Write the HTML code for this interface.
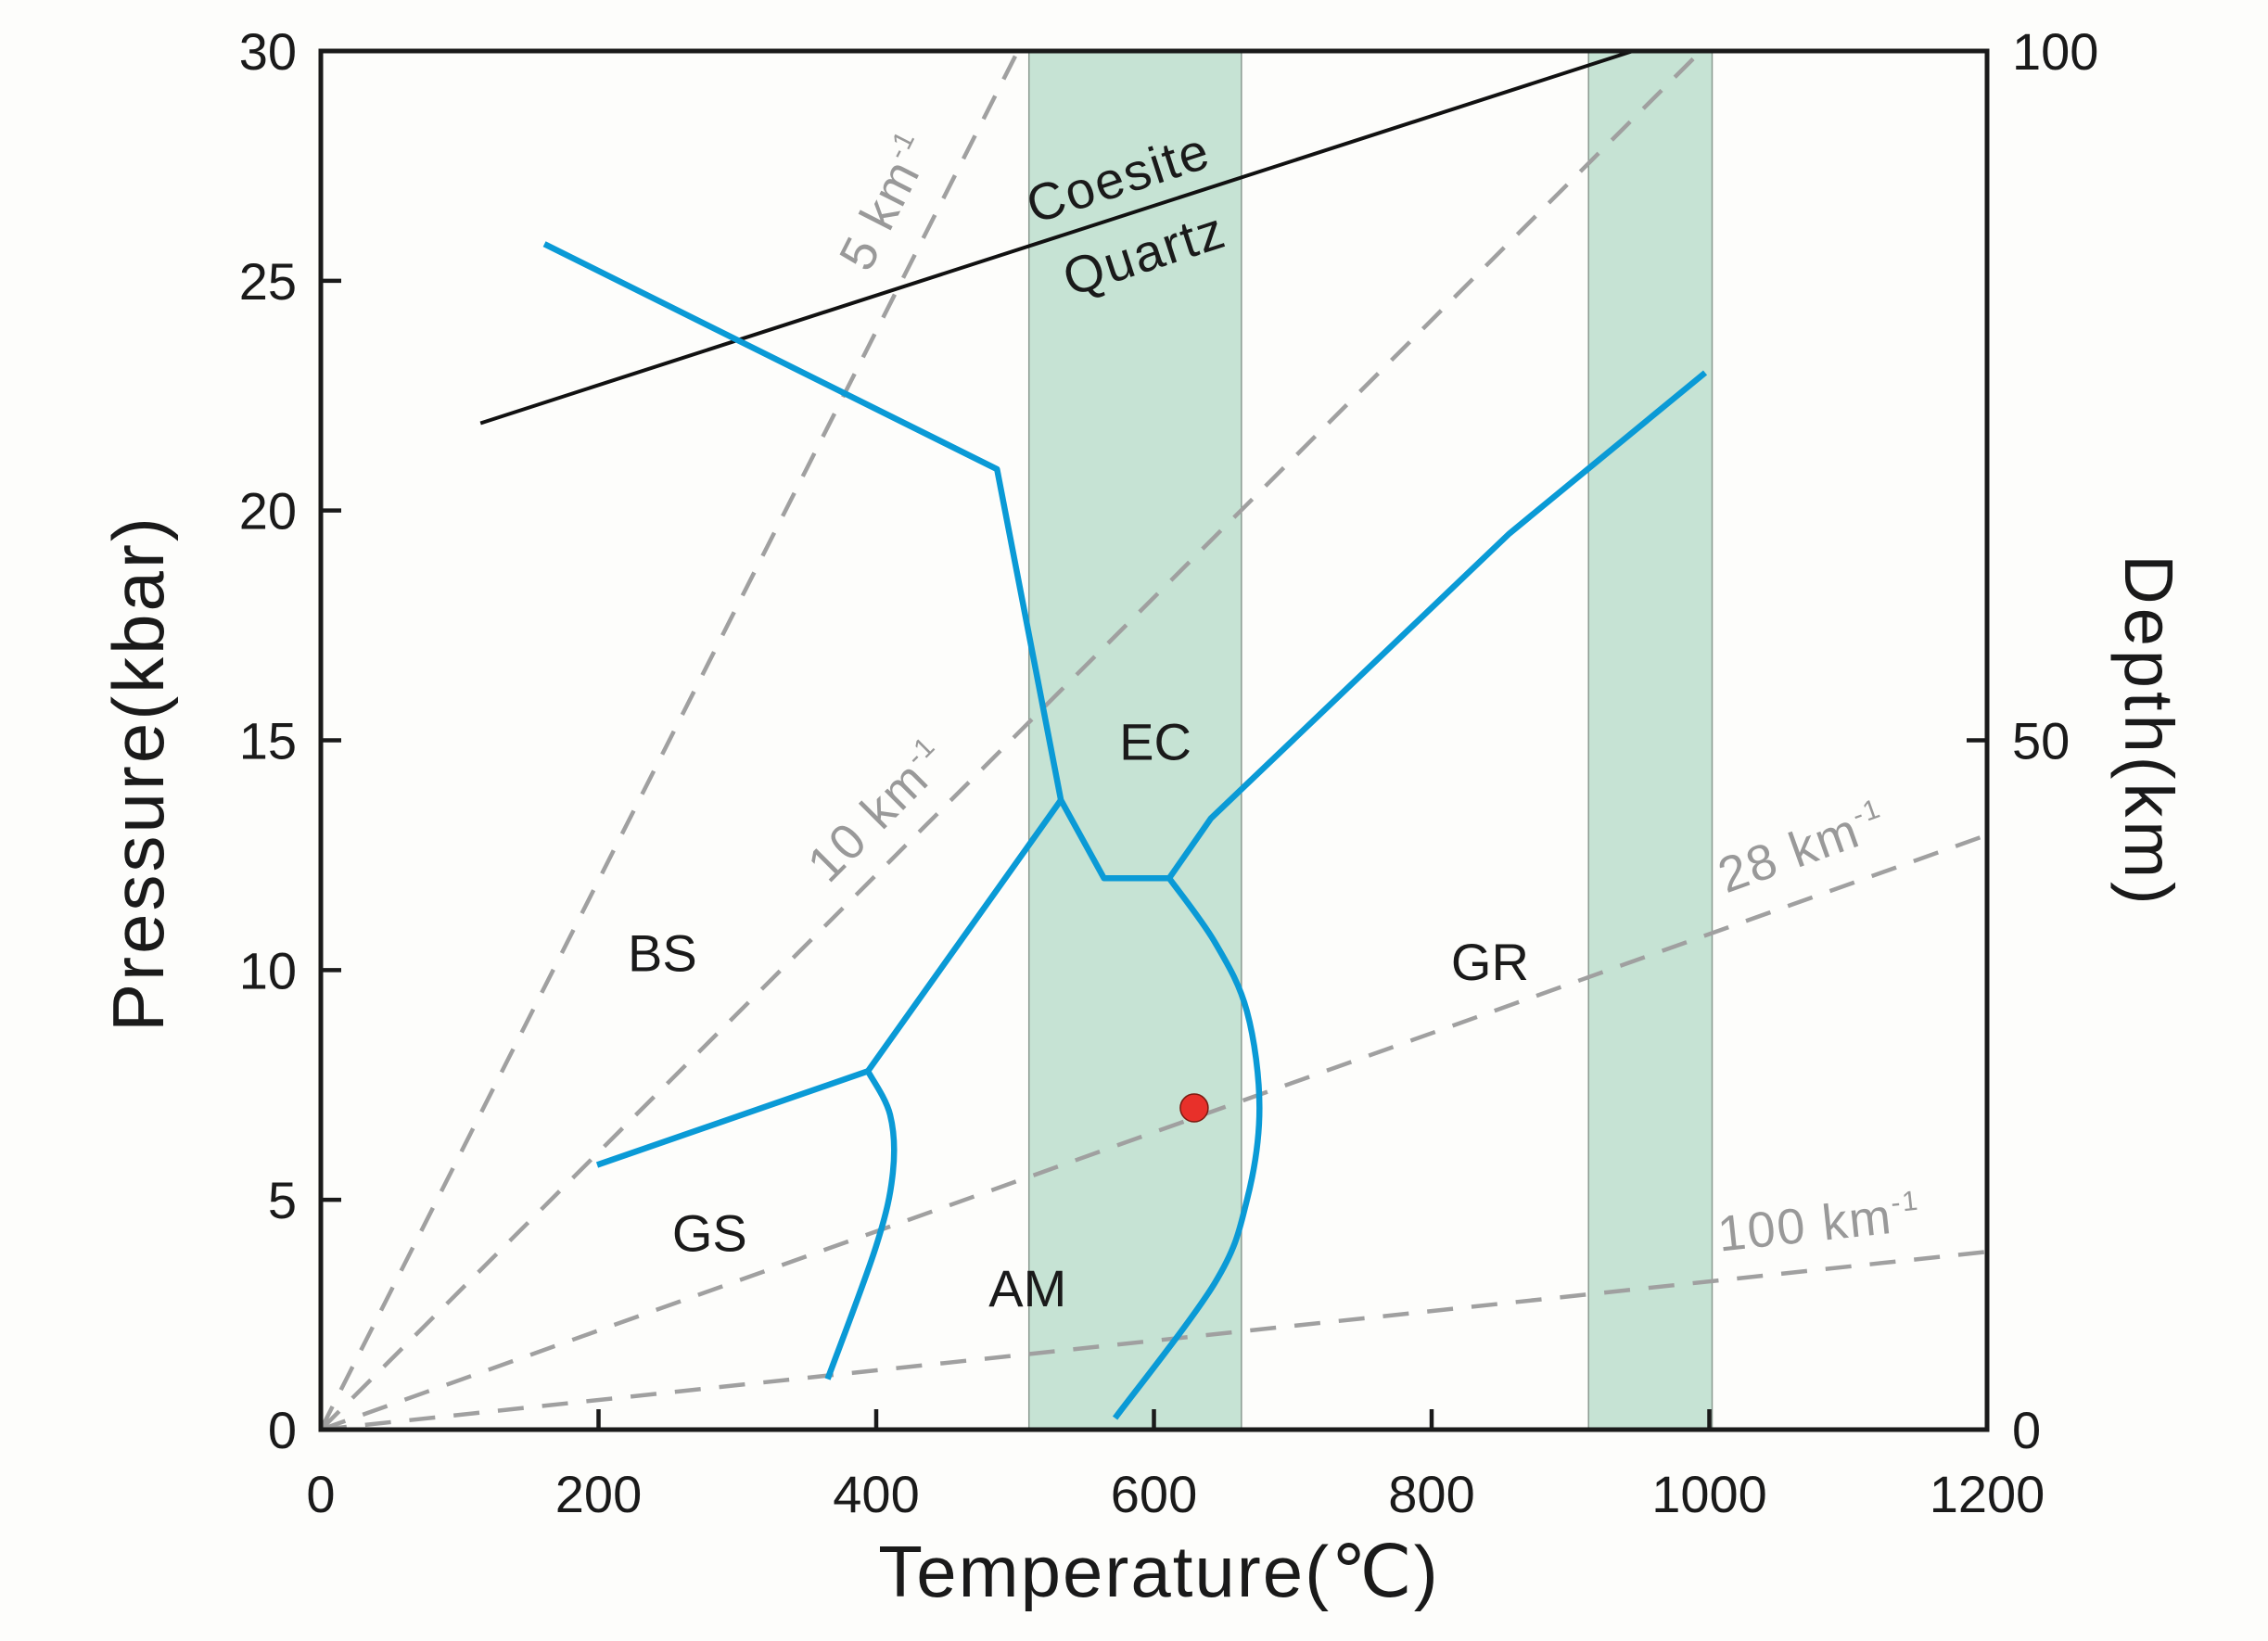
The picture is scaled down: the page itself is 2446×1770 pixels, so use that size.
<!DOCTYPE html>
<html><head><meta charset="utf-8"><style>
html,body{margin:0;padding:0;background:#fdfdfb;}
svg{display:block;font-family:"Liberation Sans",Arial,sans-serif;}
</style></head><body>
<svg id="chart" width="2446" height="1770" viewBox="0 0 2446 1770" xmlns="http://www.w3.org/2000/svg">
<rect x="0" y="0" width="2446" height="1770" fill="#fdfdfb"/>
<g id="plot"></g>
</svg>
<script>
// data arrays
const xTicks = [0,200,400,600,800,1000,1200];
const yTicks = [0,5,10,15,20,25,30];
const depthTicks = [0,50,100];
const bands = [[510,663],[913,1002]];
const coesiteQuartz = [[115,21.9],[945,30]];
const geothermNames = ["5 km","10 km","28 km","100 km"];
const geothermEndT = [502,994,1200,1200];
const geothermEndP = [30,30,12.94,3.87];
const blueUpperT = [161,487,533,564,611,641,856,997];
const blueUpperP = [25.8,20.9,13.7,12.0,12.0,13.3,19.5,23.0];
const blueMidT = [533,394,199];
const blueMidP = [13.7,7.8,5.76];
const gsAmT = [394,410,412,400,365];
const gsAmP = [7.8,6.85,5.6,4.0,1.1];
const amGrT = [611,644,667,676,667,644,572];
const amGrP = [12.0,10.6,9.1,7.0,5.0,3.2,0.25];
const sampleT = [629];
const sampleP = [7.0];
const fieldNames = ["EC","BS","GR","GS","AM"];
const fieldT = [601,246,842,280,509];
const fieldP = [14.6,10.0,9.8,3.9,2.7];

const X0=346,X1=2143,Y0=1542,Y1=55;
function sx(t){return X0+(t-0)/1200*(X1-X0);}
function sy(p){return Y0-(p-0)/30*(Y0-Y1);}
function sd(d){return Y0-d/100*(Y0-Y1);}
const NS="http://www.w3.org/2000/svg";
const g=document.getElementById('plot');
function mk(tag,attrs,parent){const e=document.createElementNS(NS,tag);for(const k in attrs)e.setAttribute(k,attrs[k]);(parent||g).appendChild(e);return e;}
function pts(T,P){return T.map((t,i)=>sx(t)+','+sy(P[i])).join(' ');}

bands.forEach((b,i)=>{
  const r=mk('rect',{x:sx(b[0]),y:Y1,width:sx(b[1])-sx(b[0]),height:Y0-Y1,fill:'#c6e3d4',stroke:'#8a9a90','stroke-width':1.5});
  
  
});
geothermNames.forEach((n,i)=>{
  const l=mk('line',{x1:sx(0),y1:sy(0),x2:sx(geothermEndT[i]),y2:sy(geothermEndP[i]),stroke:'#a0a0a0','stroke-width':4.5,'stroke-dasharray':'28 20'});
  
  
});
const cq=mk('line',{x1:sx(coesiteQuartz[0][0]),y1:sy(coesiteQuartz[0][1]),x2:sx(coesiteQuartz[1][0]),y2:sy(coesiteQuartz[1][1]),stroke:'#111','stroke-width':4});


[[blueUpperT,blueUpperP,'facies-boundary-upper'],[blueMidT,blueMidP,'facies-boundary-mid']].forEach(a=>{
  const p=mk('polyline',{points:pts(a[0],a[1]),fill:'none',stroke:'#0a9ad6','stroke-width':6.5,'stroke-linejoin':'round'});
  
  
});
function smooth(T,P){
  const q=T.map((t,i)=>[sx(t),sy(P[i])]);
  let d='M'+q[0][0]+','+q[0][1];
  for(let i=0;i<q.length-1;i++){
    const p0=q[Math.max(0,i-1)],p1=q[i],p2=q[i+1],p3=q[Math.min(q.length-1,i+2)];
    const c1=[p1[0]+(p2[0]-p0[0])/6,p1[1]+(p2[1]-p0[1])/6];
    const c2=[p2[0]-(p3[0]-p1[0])/6,p2[1]-(p3[1]-p1[1])/6];
    d+=' C'+c1[0]+','+c1[1]+' '+c2[0]+','+c2[1]+' '+p2[0]+','+p2[1];
  }
  return d;
}
[[gsAmT,gsAmP,'gs-am-boundary'],[amGrT,amGrP,'am-gr-boundary']].forEach(a=>{
  const p=mk('path',{d:smooth(a[0],a[1]),fill:'none',stroke:'#0a9ad6','stroke-width':6.5});
  
  
});
sampleT.forEach((t,i)=>{
  const c=mk('circle',{cx:sx(t),cy:sy(sampleP[i]),r:15,fill:'#e8302a',stroke:'#7a1a10','stroke-width':1.5});
  
  
});
const fr=mk('rect',{x:X0,y:Y1,width:X1-X0,height:Y0-Y1,fill:'none',stroke:'#1a1a1a','stroke-width':5});


xTicks.forEach(t=>{
  const l=mk('line',{x1:sx(t),y1:Y0,x2:sx(t),y2:Y0-22,stroke:'#1a1a1a','stroke-width':4.5});
  
  
  const tx=mk('text',{x:sx(t),y:1631,'font-size':56,'text-anchor':'middle',fill:'#1a1a1a'});
  tx.textContent=t;
  
  
});
yTicks.forEach(p=>{
  const l=mk('line',{x1:X0,y1:sy(p),x2:X0+22,y2:sy(p),stroke:'#1a1a1a','stroke-width':4.5});
  
  
  const tx=mk('text',{x:320,y:sy(p)+20,'font-size':56,'text-anchor':'end',fill:'#1a1a1a'});
  tx.textContent=p;
  
  
});
depthTicks.forEach(d=>{
  const l=mk('line',{x1:X1,y1:sd(d),x2:X1-22,y2:sd(d),stroke:'#1a1a1a','stroke-width':4.5});
  
  
  const tx=mk('text',{x:2170,y:sd(d)+20,'font-size':56,'text-anchor':'start',fill:'#1a1a1a'});
  tx.textContent=d;
  
  
});
fieldNames.forEach((n,i)=>{
  const tx=mk('text',{x:sx(fieldT[i]),y:sy(fieldP[i])+1,'font-size':56,'text-anchor':'middle',fill:'#1a1a1a'});
  tx.textContent=n;
  
  
});
function rtext(txt,sup,x,y,ang,color,name,size){
  const t=mk('text',{x:0,y:0,'font-size':size||48,fill:color,'text-anchor':'middle','letter-spacing':2,transform:'translate('+x+','+y+') rotate('+ang+')'});
  t.textContent=txt;
  if(sup){const s=mk('tspan',{'font-size':30,dy:-22},t);s.textContent=sup;}
  
  
}
rtext('Coesite','',1212,210,-18,'#1a1a1a','coesite-label',56);
rtext('Quartz','',1240,292,-18,'#1a1a1a','quartz-label',56);
rtext('5 km','-1',972,226,-63,'#999','geotherm-5-label',54);
rtext('10 km','-1',960,888,-45,'#999','geotherm-10-label',54);
rtext('28 km','-1',1950,932,-19.7,'#999','geotherm-28-label',54);
rtext('100 km','-1',1964,1338,-6.1,'#999','geotherm-100-label',54);
const xt=mk('text',{x:1250,y:1722,'font-size':78,'text-anchor':'middle','letter-spacing':2,fill:'#1a1a1a'});
xt.textContent='Temperature(℃)';


const yt=mk('text',{x:0,y:0,'font-size':78,'text-anchor':'middle','letter-spacing':3,fill:'#1a1a1a',transform:'translate(176,834) rotate(-90)'});
yt.textContent='Pressure(kbar)';


const dt=mk('text',{x:0,y:0,'font-size':74,'text-anchor':'middle','letter-spacing':4,fill:'#1a1a1a',transform:'translate(2292,789) rotate(90)'});
dt.textContent='Depth(km)';


</script>
</body></html>
